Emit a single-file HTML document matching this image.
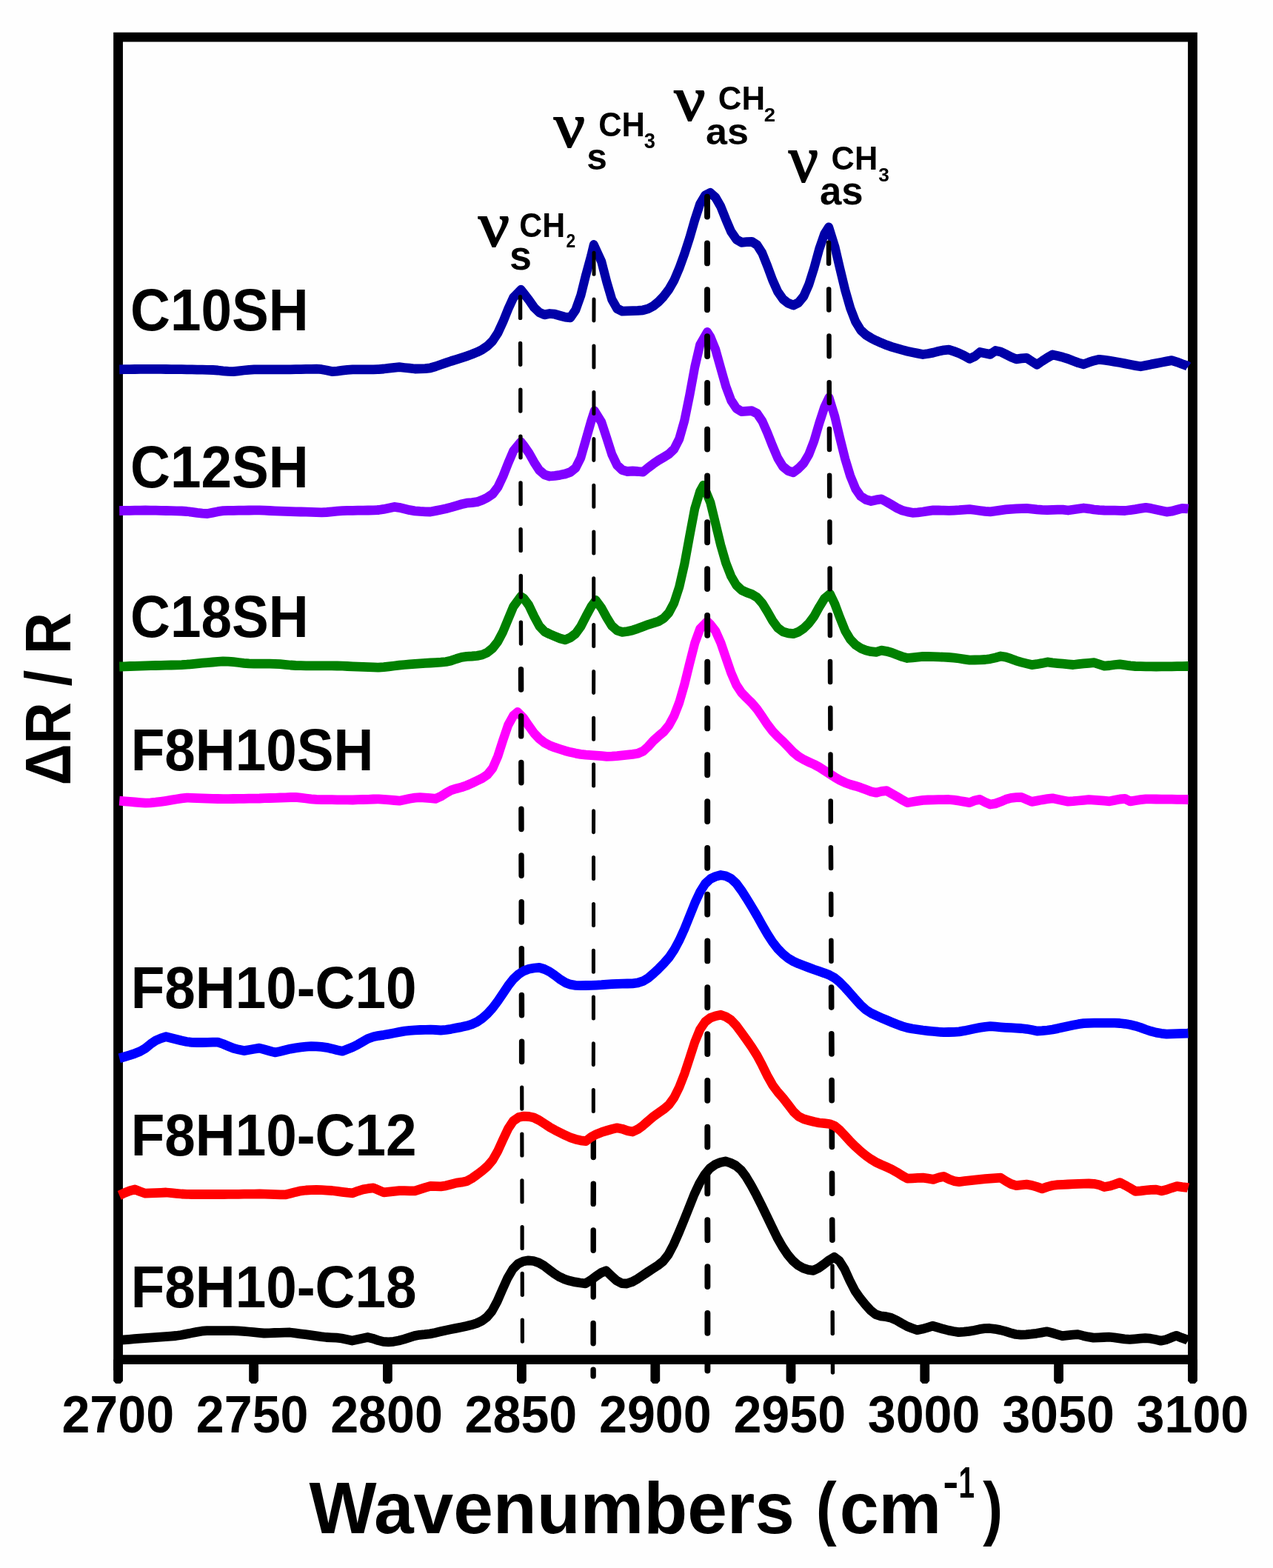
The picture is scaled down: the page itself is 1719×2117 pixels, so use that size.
<!DOCTYPE html>
<html lang="en"><head><meta charset="utf-8"><title>IR spectra</title>
<style>
html,body{margin:0;padding:0;background:#fefefe;}
body{width:1719px;height:2117px;overflow:hidden;}
svg{display:block;}
text{font-family:"Liberation Sans",sans-serif;font-weight:bold;fill:#000;}
.nu{font-family:"Liberation Serif","DejaVu Serif",serif;}
.c{fill:none;stroke-width:12.8;stroke-linejoin:round;stroke-linecap:butt;}
.d{fill:none;stroke:#000;stroke-linecap:round;}
</style></head><body>
<svg xmlns="http://www.w3.org/2000/svg" width="1719" height="2117" viewBox="0 0 1719 2117">
<rect x="0" y="0" width="1719" height="2117" fill="#fefefe"/>
<g fill="none" stroke="#000" stroke-width="12.8">
<path d="M159.55 1850 V50.2 H1610.50 V1850" stroke-linejoin="miter"/>
<path d="M159.6 1835.6 H1610.5"/>
</g>
<path fill="#000" d="M153.15 1835.6V1864.6L156.35 1868H162.75L165.95 1864.6V1835.6ZM336.20 1835.6V1864.6L339.40 1868H345.80L349.00 1864.6V1835.6ZM517.00 1835.6V1864.6L520.20 1868H526.60L529.80 1864.6V1835.6ZM698.00 1835.6V1864.6L701.20 1868H707.60L710.80 1864.6V1835.6ZM878.40 1835.6V1864.6L881.60 1868H888.00L891.20 1864.6V1835.6ZM1061.60 1835.6V1864.6L1064.80 1868H1071.20L1074.40 1864.6V1835.6ZM1242.40 1835.6V1864.6L1245.60 1868H1252.00L1255.20 1864.6V1835.6ZM1423.20 1835.6V1864.6L1426.40 1868H1432.80L1436.00 1864.6V1835.6ZM1604.10 1835.6V1864.6L1607.30 1868H1613.70L1616.90 1864.6V1835.6Z"/>
<g transform="scale(0.950 1)">
<path class="c" stroke="#FF00FF" d="M169.7 1081.2L177.1 1081.8L184.5 1082.4L191.8 1083.0L199.2 1083.6L206.6 1084.2L213.9 1083.9L221.3 1083.2L228.7 1082.3L236.1 1081.3L243.4 1080.2L250.8 1079.0L258.2 1077.9L265.5 1077.1L272.9 1077.3L280.3 1077.6L287.6 1077.8L295.0 1078.1L302.4 1078.3L309.7 1078.5L317.1 1078.7L324.5 1078.6L331.8 1078.5L339.2 1078.4L346.6 1078.3L353.9 1078.2L361.3 1078.1L368.7 1078.0L376.1 1077.7L383.4 1077.5L390.8 1077.3L398.2 1077.0L405.5 1076.8L412.9 1076.5L420.3 1076.3L427.6 1077.1L435.0 1078.0L442.4 1078.8L449.7 1079.4L457.1 1079.6L464.5 1079.7L471.8 1079.7L479.2 1079.8L486.6 1079.9L493.9 1079.9L501.3 1080.0L508.7 1079.7L516.1 1079.5L523.4 1079.3L530.8 1079.0L538.2 1078.8L545.5 1079.3L552.9 1079.9L560.3 1080.5L567.6 1081.2L575.0 1079.8L582.4 1078.3L589.7 1077.1L597.1 1076.6L604.5 1077.1L611.8 1077.7L619.2 1078.3L626.6 1075.2L633.9 1070.7L641.3 1066.9L648.7 1064.7L656.1 1062.9L663.4 1060.5L670.8 1057.4L678.2 1054.0L685.5 1050.6L692.9 1045.9L700.3 1037.1L707.6 1021.1L715.0 999.3L722.4 978.7L729.7 966.3L735.7 961.5L744.5 969.9L751.8 980.2L759.2 990.0L766.6 997.4L773.9 1002.7L781.3 1006.4L788.7 1009.2L796.1 1011.5L803.4 1013.7L810.8 1015.6L818.2 1017.1L825.5 1018.4L832.9 1019.2L840.3 1019.7L847.6 1020.1L855.0 1020.7L862.4 1021.4L869.7 1021.1L877.1 1020.6L884.5 1019.9L891.8 1019.2L899.2 1018.4L906.6 1017.2L913.9 1014.3L921.3 1008.0L928.7 1000.2L936.1 993.8L943.4 988.0L950.8 979.4L958.2 966.4L965.5 948.5L972.9 924.2L980.3 895.5L987.6 868.3L995.0 849.1L1005.3 839.2L1009.7 843.0L1017.1 852.0L1024.5 867.8L1031.8 888.0L1039.2 908.4L1046.6 924.6L1053.9 935.2L1061.3 942.4L1068.7 949.2L1076.1 957.6L1083.4 967.6L1090.8 978.1L1098.2 987.3L1105.5 994.5L1112.9 1001.0L1120.3 1008.3L1127.6 1015.6L1135.0 1021.4L1142.4 1025.5L1149.7 1028.8L1157.1 1032.0L1164.5 1035.8L1171.8 1040.2L1179.2 1044.7L1186.6 1049.3L1193.9 1053.4L1201.3 1056.7L1208.7 1059.2L1216.1 1061.2L1223.4 1063.4L1230.8 1066.1L1238.2 1068.7L1245.5 1070.2L1252.9 1068.4L1260.3 1067.6L1267.6 1071.6L1275.0 1075.7L1282.4 1079.8L1289.7 1083.7L1297.1 1082.5L1304.5 1081.4L1311.8 1080.4L1319.2 1080.0L1326.6 1079.8L1333.9 1079.7L1341.3 1079.6L1348.7 1079.5L1356.1 1080.2L1363.4 1081.2L1370.8 1082.4L1378.2 1083.6L1385.5 1080.7L1392.9 1079.4L1400.3 1083.1L1407.6 1086.0L1415.0 1084.9L1422.4 1082.3L1429.7 1079.3L1437.1 1077.4L1444.5 1076.7L1451.8 1076.3L1459.2 1079.4L1466.6 1082.4L1473.9 1081.1L1481.3 1079.8L1488.7 1078.7L1496.1 1077.8L1503.4 1079.2L1510.8 1080.7L1518.2 1082.1L1525.5 1081.7L1532.9 1081.0L1540.3 1080.3L1547.6 1079.6L1555.0 1080.1L1562.4 1080.7L1569.7 1081.2L1577.1 1081.8L1584.5 1080.4L1591.8 1079.0L1599.2 1078.4L1606.6 1081.9L1613.9 1080.7L1621.3 1079.6L1628.7 1078.8L1636.1 1078.9L1643.4 1079.0L1650.8 1079.1L1658.2 1079.1L1665.5 1079.2L1672.9 1079.3L1680.3 1079.4L1687.6 1079.5L1688.9 1079.5"/>
<path class="c" stroke="#008000" d="M169.7 900.0L177.1 899.8L184.5 899.5L191.8 899.3L199.2 899.1L206.6 898.9L213.9 898.7L221.3 898.5L228.7 898.3L236.1 898.1L243.4 898.0L250.8 897.8L258.2 897.6L265.5 897.2L272.9 896.6L280.3 895.9L287.6 895.2L295.0 894.6L302.4 894.0L309.7 893.4L317.1 892.8L324.5 893.1L331.8 893.7L339.2 894.5L346.6 895.3L353.9 895.9L361.3 896.2L368.7 896.2L376.1 896.2L383.4 896.2L390.8 896.3L398.2 896.7L405.5 897.3L412.9 898.0L420.3 898.5L427.6 898.7L435.0 898.8L442.4 898.8L449.7 898.8L457.1 898.8L464.5 898.8L471.8 898.8L479.2 899.0L486.6 899.2L493.9 899.5L501.3 899.8L508.7 900.1L516.1 900.4L523.4 900.6L530.8 900.9L538.2 901.2L545.5 900.6L552.9 899.8L560.3 899.0L567.6 898.2L575.0 897.5L582.4 896.8L589.7 896.3L597.1 895.9L604.5 895.4L611.8 895.0L619.2 894.6L626.6 894.2L633.9 893.5L641.3 891.9L648.7 889.5L656.1 887.4L663.4 886.4L670.8 886.0L678.2 885.4L685.5 884.0L692.9 880.8L700.3 875.1L707.6 866.2L715.0 852.8L722.4 835.7L729.7 819.1L740.3 805.4L744.5 807.9L751.8 817.3L759.2 832.2L766.6 845.2L773.9 852.6L781.3 856.1L788.7 859.1L796.1 862.0L803.4 863.8L810.8 860.8L818.2 855.5L825.5 845.9L832.9 832.2L840.3 819.2L846.9 810.5L855.0 820.9L862.4 833.7L869.7 844.9L877.1 851.1L884.5 853.3L891.8 852.5L899.2 850.9L906.6 848.6L913.9 845.9L921.3 843.3L928.7 841.2L936.1 838.9L943.4 834.7L950.8 827.2L958.2 813.8L965.5 792.5L972.9 761.7L980.3 723.4L987.6 686.6L995.0 663.5L999.8 655.3L1009.7 678.2L1017.1 707.1L1024.5 736.2L1031.8 760.0L1039.2 778.0L1046.6 790.0L1053.9 796.6L1061.3 799.9L1068.7 802.4L1076.1 806.5L1083.4 814.3L1090.8 825.8L1098.2 838.1L1105.5 847.6L1112.9 852.9L1120.3 854.9L1127.6 855.7L1135.0 853.1L1142.4 848.4L1149.7 841.6L1157.1 832.2L1164.5 819.6L1171.8 808.3L1179.8 801.9L1186.6 815.3L1193.9 834.0L1201.3 851.6L1208.7 863.3L1216.1 870.6L1223.4 875.2L1230.8 878.0L1238.2 879.7L1245.5 880.3L1252.9 878.2L1260.3 879.3L1267.6 881.2L1275.0 884.0L1282.4 886.6L1289.7 888.5L1297.1 887.8L1304.5 887.1L1311.8 886.4L1319.2 886.5L1326.6 886.7L1333.9 886.9L1341.3 887.1L1348.7 887.5L1356.1 888.1L1363.4 889.0L1370.8 890.1L1378.2 891.1L1385.5 891.0L1392.9 890.9L1400.3 890.5L1407.6 889.6L1415.0 888.0L1422.4 886.0L1429.7 887.1L1437.1 889.4L1444.5 892.1L1451.8 894.1L1459.2 895.9L1466.6 897.6L1473.9 896.7L1481.3 895.4L1488.7 893.9L1496.1 894.9L1503.4 895.6L1510.8 896.2L1518.2 896.9L1525.5 897.5L1532.9 896.7L1540.3 895.9L1547.6 895.3L1555.0 894.7L1562.4 896.9L1569.7 899.1L1577.1 898.5L1584.5 897.5L1591.8 896.8L1599.2 897.9L1606.6 898.9L1613.9 899.5L1621.3 899.7L1628.7 899.8L1636.1 899.9L1643.4 900.0L1650.8 899.9L1658.2 899.9L1665.5 899.8L1672.9 899.7L1680.3 899.6L1687.6 899.5L1688.9 899.5"/>
<path class="c" stroke="#8000FF" d="M169.7 689.5L177.1 689.4L184.5 689.3L191.8 689.2L199.2 689.1L206.6 689.0L213.9 689.1L221.3 689.2L228.7 689.3L236.1 689.5L243.4 689.6L250.8 689.8L258.2 690.0L265.5 690.5L272.9 691.3L280.3 692.4L287.6 693.1L295.0 693.5L302.4 692.1L309.7 690.7L317.1 689.7L324.5 689.4L331.8 689.3L339.2 689.2L346.6 689.1L353.9 689.0L361.3 688.9L368.7 688.8L376.1 689.1L383.4 689.5L390.8 689.8L398.2 690.1L405.5 690.3L412.9 690.6L420.3 690.8L427.6 691.0L435.0 691.2L442.4 691.4L449.7 691.7L457.1 691.9L464.5 691.5L471.8 690.9L479.2 690.2L486.6 689.7L493.9 689.4L501.3 689.3L508.7 689.2L516.1 689.1L523.4 689.0L530.8 688.9L538.2 688.5L545.5 687.4L552.9 685.9L560.3 684.4L567.6 685.3L575.0 687.0L582.4 688.7L589.7 689.8L597.1 690.4L604.5 690.8L611.8 691.0L619.2 689.6L626.6 688.2L633.9 686.7L641.3 684.9L648.7 682.8L656.1 680.8L663.4 679.2L670.8 678.7L678.2 677.7L685.5 675.1L692.9 671.7L700.3 666.9L707.6 657.8L715.0 643.0L722.4 625.1L729.7 608.9L740.3 596.6L744.5 601.6L751.8 611.5L759.2 624.1L766.6 634.8L773.9 640.8L781.3 643.0L788.7 642.3L796.1 641.3L803.4 639.9L810.8 637.4L818.2 631.7L825.5 617.9L832.9 593.4L840.3 568.6L845.0 554.7L855.0 570.0L862.4 591.5L869.7 613.3L877.1 628.0L884.5 634.6L891.8 636.5L899.2 636.0L906.6 636.5L913.9 637.2L921.3 631.5L928.7 626.2L936.1 621.4L943.4 617.3L950.8 613.0L958.2 606.2L965.5 592.6L972.9 567.8L980.3 533.4L987.6 495.6L995.0 465.5L1005.3 448.5L1009.7 454.9L1017.1 472.1L1024.5 497.2L1031.8 521.7L1039.2 540.5L1046.6 551.2L1053.9 555.6L1061.3 555.2L1068.7 554.7L1076.1 558.3L1083.4 568.4L1090.8 584.4L1098.2 602.2L1105.5 618.5L1112.9 629.9L1120.3 635.6L1127.6 637.8L1135.0 632.5L1142.4 625.3L1149.7 613.7L1157.1 595.3L1164.5 571.4L1171.8 550.2L1178.4 536.9L1186.6 562.2L1193.9 591.5L1201.3 619.6L1208.7 642.8L1216.1 659.9L1223.4 669.9L1230.8 674.5L1238.2 676.5L1245.5 674.9L1252.9 673.9L1260.3 677.6L1267.6 681.7L1275.0 685.9L1282.4 689.1L1289.7 690.9L1297.1 692.3L1304.5 691.9L1311.8 691.0L1319.2 689.9L1326.6 688.8L1333.9 689.0L1341.3 689.2L1348.7 689.4L1356.1 689.1L1363.4 688.7L1370.8 688.1L1378.2 687.6L1385.5 688.5L1392.9 689.5L1400.3 690.4L1407.6 690.9L1415.0 689.9L1422.4 688.8L1429.7 687.9L1437.1 687.3L1444.5 686.9L1451.8 686.6L1459.2 686.4L1466.6 687.1L1473.9 687.8L1481.3 688.3L1488.7 688.6L1496.1 688.4L1503.4 688.2L1510.8 688.1L1518.2 689.0L1525.5 688.0L1532.9 687.0L1540.3 686.0L1547.6 686.8L1555.0 688.0L1562.4 688.7L1569.7 689.0L1577.1 689.1L1584.5 689.2L1591.8 689.3L1599.2 689.5L1606.6 688.6L1613.9 687.6L1621.3 686.4L1628.7 685.3L1636.1 686.4L1643.4 687.9L1650.8 689.5L1658.2 691.1L1665.5 690.2L1672.9 688.3L1680.3 686.4L1687.6 686.8L1688.9 687.0"/>
<path class="c" stroke="#0000A8" d="M169.7 498.8L177.1 498.7L184.5 498.6L191.8 498.5L199.2 498.4L206.6 498.3L213.9 498.3L221.3 498.4L228.7 498.4L236.1 498.5L243.4 498.6L250.8 498.6L258.2 498.7L265.5 498.8L272.9 498.9L280.3 499.1L287.6 499.2L295.0 499.3L302.4 499.5L309.7 500.0L317.1 500.8L324.5 501.4L331.8 501.7L339.2 500.8L346.6 500.0L353.9 499.3L361.3 498.9L368.7 498.8L376.1 498.8L383.4 498.8L390.8 498.8L398.2 498.8L405.5 498.8L412.9 498.8L420.3 498.7L427.6 498.6L435.0 498.4L442.4 498.3L449.7 498.1L457.1 498.7L464.5 500.0L471.8 501.6L479.2 501.1L486.6 500.2L493.9 499.4L501.3 498.9L508.7 498.8L516.1 498.8L523.4 498.8L530.8 498.8L538.2 498.6L545.5 498.0L552.9 497.1L560.3 496.3L567.6 495.7L575.0 496.5L582.4 497.2L589.7 498.0L597.1 497.9L604.5 497.7L611.8 496.8L619.2 494.8L626.6 492.3L633.9 489.9L641.3 487.5L648.7 485.3L656.1 483.1L663.4 480.8L670.8 478.3L678.2 475.4L685.5 471.9L692.9 467.1L700.3 460.2L707.6 449.6L715.0 434.4L722.4 417.0L729.7 401.9L740.5 391.2L744.5 396.1L751.8 405.0L759.2 415.1L766.6 421.9L773.9 424.9L781.3 423.5L788.7 424.2L796.1 426.2L803.4 428.1L810.8 428.8L818.2 418.6L825.5 399.1L832.9 370.9L840.3 345.2L844.0 330.5L855.0 353.3L862.4 380.7L869.7 404.2L877.1 416.6L884.5 420.1L891.8 419.8L899.2 419.6L906.6 419.4L913.9 418.8L921.3 416.9L928.7 413.1L936.1 407.4L943.4 400.1L950.8 390.8L958.2 378.5L965.5 362.2L972.9 342.8L980.3 321.0L987.6 296.8L995.0 275.4L1002.4 263.7L1009.7 260.3L1017.1 266.6L1024.5 278.9L1031.8 296.3L1039.2 312.8L1046.6 323.1L1053.9 327.3L1061.3 326.6L1068.7 326.3L1076.1 330.7L1083.4 341.6L1090.8 359.3L1098.2 378.3L1105.5 393.7L1112.9 403.8L1120.3 409.3L1127.6 412.1L1135.0 408.6L1142.4 400.0L1149.7 384.2L1157.1 362.0L1164.5 336.3L1171.8 316.1L1178.0 306.8L1186.6 332.9L1193.9 362.5L1201.3 391.6L1208.7 416.1L1216.1 434.3L1223.4 445.6L1230.8 452.1L1238.2 456.4L1245.5 459.9L1252.9 463.1L1260.3 465.9L1267.6 468.3L1275.0 470.4L1282.4 472.4L1289.7 474.2L1297.1 475.7L1304.5 477.1L1311.8 478.5L1319.2 477.5L1326.6 476.1L1333.9 474.3L1341.3 472.8L1348.7 472.1L1356.1 474.4L1363.4 477.0L1370.8 480.4L1378.2 484.4L1385.5 481.2L1392.9 475.5L1400.3 477.0L1407.6 478.4L1415.0 473.5L1422.4 475.0L1429.7 478.4L1437.1 482.0L1444.5 484.9L1451.8 483.9L1459.2 483.3L1466.6 487.9L1473.9 492.3L1481.3 487.5L1488.7 483.0L1496.1 479.0L1503.4 480.5L1510.8 482.3L1518.2 484.5L1525.5 487.3L1532.9 489.9L1540.3 491.8L1547.6 489.2L1555.0 486.9L1562.4 485.3L1569.7 486.2L1577.1 487.2L1584.5 488.3L1591.8 489.5L1599.2 490.9L1606.6 492.3L1613.9 493.6L1621.3 494.8L1628.7 493.4L1636.1 491.9L1643.4 490.6L1650.8 489.2L1658.2 487.9L1665.5 486.6L1672.9 488.8L1680.3 491.5L1687.6 493.9L1688.9 495.0"/>
</g>
<path class="d" stroke-width="5.4" d="M702.5 400.7L702.6 429.4M702.6 463.5L702.7 492.2M702.8 526.3L702.8 555.0M702.9 589.1L703.0 617.8M703.0 651.9L703.1 680.6M703.1 714.7L703.2 743.4M703.3 777.5L703.3 806.2M703.4 840.3L703.5 869.0"/>
<path class="d" stroke-width="7.4" d="M703.5 903.8L703.6 931.1M703.7 966.6L703.7 993.9M703.8 1029.4L703.9 1056.7M703.9 1092.2L704.0 1119.5M704.0 1155.0L704.1 1182.3M704.2 1217.8L704.2 1245.1M704.3 1280.6L704.4 1307.9M704.4 1343.4L704.5 1370.7M704.6 1406.2L704.6 1433.5"/>
<path class="d" stroke-width="5.2" d="M704.7 1468.2L704.8 1497.1M704.8 1531.0L704.9 1559.9M704.9 1593.8L705.0 1622.7M705.1 1656.6L705.1 1685.5M705.2 1719.4L705.3 1748.3M705.3 1782.2L705.4 1811.1M705.5 1845.0L705.5 1858.2"/>
<path class="d" stroke-width="5.0" d="M802.0 341.2L802.0 370.2M802.0 404.1L801.9 433.1M801.9 466.9L801.9 495.9M801.9 529.6L801.9 558.6M801.9 592.4L801.8 621.4M801.8 655.2L801.8 684.2M801.8 718.0L801.8 747.0M801.7 780.8L801.7 809.8M801.7 843.6L801.7 872.6M801.7 906.4L801.6 935.4M801.6 969.2L801.6 998.2M801.6 1032.0L801.6 1061.0M801.6 1094.8L801.5 1123.8M801.5 1157.6L801.5 1186.6M801.5 1220.4L801.5 1249.4M801.4 1283.2L801.4 1312.2M801.4 1346.0L801.4 1375.0M801.4 1408.8L801.3 1437.8M801.3 1471.6L801.3 1500.6"/>
<path class="d" stroke-width="7.4" d="M801.3 1535.3L801.3 1562.6M801.3 1598.1L801.2 1625.4M801.2 1660.9L801.2 1688.2M801.2 1723.7L801.2 1751.0M801.1 1786.5L801.1 1813.8M801.1 1849.3L801.1 1857.9"/>
<path class="d" stroke-width="7.9" d="M955.0 265.7L955.0 292.6M955.0 328.5L955.0 355.4M955.0 391.3L955.0 418.2M955.0 454.1L955.1 481.0M955.1 516.9L955.1 543.8M955.1 579.7L955.1 606.6M955.1 642.5L955.1 669.4M955.1 705.3L955.1 732.2M955.1 768.1L955.1 795.0M955.1 830.9L955.2 857.8M955.2 893.7L955.2 920.6M955.2 956.5L955.2 983.4M955.2 1019.3L955.2 1046.2M955.2 1082.1L955.2 1109.0M955.2 1144.9L955.2 1171.8M955.2 1207.7L955.2 1234.6M955.3 1270.5L955.3 1297.4M955.3 1333.3L955.3 1360.2M955.3 1396.1L955.3 1423.0M955.3 1458.9L955.3 1485.8M955.3 1521.7L955.3 1548.6M955.3 1584.5L955.3 1611.4M955.3 1647.3L955.4 1674.2M955.4 1710.1L955.4 1737.0M955.4 1772.9L955.4 1799.8M955.4 1835.7L955.4 1850.5"/>
<path class="d" stroke-width="6.5" d="M1119.0 327.8L1119.1 355.7M1119.2 390.6L1119.3 418.5M1119.5 453.4L1119.6 481.3M1119.7 516.2L1119.8 544.1M1119.9 579.0L1120.0 606.9M1120.1 641.8L1120.2 669.7M1120.4 704.6L1120.5 732.5M1120.6 767.4L1120.7 795.3M1120.8 830.2L1120.9 858.1M1121.0 893.0L1121.1 920.9M1121.3 955.8L1121.4 983.7M1121.5 1018.6L1121.6 1046.5M1121.7 1081.4L1121.8 1109.3M1121.9 1144.2L1122.1 1172.1M1122.2 1207.0L1122.3 1234.9M1122.4 1269.8L1122.5 1297.7"/>
<path class="d" stroke-width="7.6" d="M1122.6 1333.0L1122.7 1360.1M1122.8 1395.8L1123.0 1422.9M1123.1 1458.6L1123.2 1485.7M1123.3 1521.4L1123.4 1548.5M1123.5 1584.2L1123.6 1611.3M1123.7 1647.0L1123.9 1674.1"/>
<path class="d" stroke-width="5.4" d="M1124.0 1709.0L1124.1 1737.7M1124.2 1771.8L1124.3 1800.5M1124.4 1834.6L1124.5 1853.0"/>
<g transform="scale(0.950 1)">
<path class="c" stroke="#000000" d="M168.9 1809.4L176.3 1808.8L183.7 1808.3L191.1 1807.7L198.4 1807.2L205.8 1806.6L213.2 1806.1L220.5 1805.6L227.9 1805.1L235.3 1804.6L242.6 1804.1L250.0 1803.5L257.4 1802.5L264.7 1801.1L272.1 1799.8L279.5 1798.4L286.8 1797.2L294.2 1796.7L301.6 1796.6L308.9 1796.6L316.3 1796.6L323.7 1796.6L331.1 1796.6L338.4 1796.8L345.8 1797.3L353.2 1798.0L360.5 1798.7L367.9 1799.4L375.3 1800.0L382.6 1799.8L390.0 1799.5L397.4 1799.3L404.7 1799.1L412.1 1799.0L419.5 1799.9L426.8 1800.8L434.2 1801.7L441.6 1802.7L448.9 1803.7L456.3 1804.7L463.7 1805.5L471.1 1805.8L478.4 1806.1L485.8 1807.0L493.2 1808.5L500.5 1810.1L507.9 1808.5L515.3 1807.0L522.6 1805.5L530.0 1807.2L537.4 1809.6L544.7 1811.4L552.1 1811.9L559.5 1811.3L566.8 1810.0L574.2 1808.1L581.6 1805.8L588.9 1803.6L596.3 1802.3L603.7 1801.7L611.1 1800.9L618.4 1799.5L625.8 1797.8L633.2 1796.2L640.5 1794.8L647.9 1793.4L655.3 1792.0L662.6 1790.5L670.0 1788.8L677.4 1786.7L684.7 1783.4L692.1 1778.3L699.5 1769.9L706.8 1757.0L714.2 1740.9L721.6 1725.3L728.9 1713.5L736.3 1706.3L743.7 1703.0L751.1 1701.8L758.4 1702.5L765.8 1704.8L773.2 1708.9L780.5 1714.2L787.9 1719.5L795.3 1723.9L802.6 1727.1L810.0 1729.3L817.4 1730.9L824.7 1732.0L832.1 1732.8L839.5 1728.7L846.8 1723.4L854.2 1718.6L861.6 1715.8L868.9 1722.4L876.3 1728.8L883.7 1732.7L891.1 1733.0L898.4 1730.7L905.8 1726.9L913.2 1722.2L920.5 1717.5L927.9 1712.9L935.3 1708.4L942.6 1702.8L950.0 1693.9L957.4 1680.5L964.7 1664.7L972.1 1647.8L979.5 1630.1L986.8 1612.6L994.2 1597.6L1001.6 1585.9L1008.9 1577.6L1016.3 1572.4L1023.7 1569.5L1031.1 1567.9L1038.4 1570.1L1045.8 1573.6L1053.2 1579.6L1060.5 1588.8L1067.9 1600.6L1075.3 1613.7L1082.6 1627.6L1090.0 1642.0L1097.4 1656.7L1104.7 1670.9L1112.1 1683.3L1119.5 1693.7L1126.8 1702.0L1134.2 1708.2L1141.6 1712.1L1148.9 1714.3L1156.3 1715.3L1163.7 1711.9L1171.1 1706.9L1178.4 1701.5L1185.8 1697.3L1193.2 1702.5L1200.5 1713.5L1207.9 1729.0L1215.3 1742.7L1222.6 1752.7L1230.0 1761.3L1237.4 1769.2L1244.7 1774.6L1252.1 1776.8L1259.5 1777.7L1266.8 1779.3L1274.2 1782.5L1281.6 1786.6L1288.9 1790.4L1296.3 1793.2L1303.7 1795.7L1311.1 1794.3L1318.4 1792.3L1325.8 1790.2L1333.2 1792.2L1340.5 1794.3L1347.9 1796.1L1355.3 1797.5L1362.6 1798.6L1370.0 1798.1L1377.4 1797.4L1384.7 1796.2L1392.1 1794.7L1399.5 1793.6L1406.8 1793.5L1414.2 1794.3L1421.6 1795.6L1428.9 1797.4L1436.3 1799.6L1443.7 1801.5L1451.1 1802.2L1458.4 1801.8L1465.8 1801.2L1473.2 1800.3L1480.5 1799.1L1487.9 1797.8L1495.3 1799.5L1502.6 1801.6L1510.0 1803.7L1517.4 1802.8L1524.7 1802.1L1532.1 1801.6L1539.5 1803.4L1546.8 1804.9L1554.2 1806.1L1561.6 1805.8L1568.9 1805.5L1576.3 1805.2L1583.7 1805.8L1591.1 1806.9L1598.4 1807.9L1605.8 1808.4L1613.2 1807.8L1620.5 1807.2L1627.9 1806.7L1635.3 1807.2L1642.6 1808.5L1650.0 1810.2L1657.4 1808.7L1664.7 1805.9L1672.1 1803.3L1679.5 1806.2L1686.8 1808.6L1688.9 1810.0"/>
<path class="c" stroke="#FF0000" d="M169.7 1613.8L177.1 1610.5L184.5 1607.7L191.8 1605.9L199.2 1608.7L206.6 1611.2L213.9 1610.9L221.3 1610.6L228.7 1610.3L236.1 1610.0L243.4 1610.7L250.8 1611.3L258.2 1612.0L265.5 1612.4L272.9 1612.5L280.3 1612.5L287.6 1612.5L295.0 1612.5L302.4 1612.5L309.7 1612.5L317.1 1612.5L324.5 1612.4L331.8 1612.3L339.2 1612.3L346.6 1612.2L353.9 1612.1L361.3 1612.1L368.7 1612.0L376.1 1612.2L383.4 1612.4L390.8 1612.6L398.2 1612.8L405.5 1612.9L412.9 1611.3L420.3 1609.4L427.6 1607.8L435.0 1607.0L442.4 1606.6L449.7 1606.4L457.1 1606.7L464.5 1607.1L471.8 1607.5L479.2 1608.3L486.6 1609.3L493.9 1610.2L501.3 1610.8L508.7 1608.1L516.1 1605.9L523.4 1604.7L530.8 1603.8L538.2 1606.9L545.5 1609.9L552.9 1609.1L560.3 1608.4L567.6 1607.6L575.0 1607.7L582.4 1607.8L589.7 1607.9L597.1 1605.6L604.5 1603.3L611.8 1601.3L619.2 1601.6L626.6 1601.8L633.9 1600.8L641.3 1599.0L648.7 1597.1L656.1 1596.2L663.4 1594.7L670.8 1590.9L678.2 1585.9L685.5 1580.6L692.9 1574.5L700.3 1566.2L707.6 1553.9L715.0 1538.5L722.4 1523.6L729.7 1513.3L737.1 1508.6L744.5 1507.1L751.8 1507.5L759.2 1509.1L766.6 1512.6L773.9 1517.2L781.3 1521.8L788.7 1525.7L796.1 1529.2L803.4 1532.7L810.8 1535.8L818.2 1538.2L825.5 1539.8L832.9 1540.6L840.3 1535.2L847.6 1531.4L855.0 1528.7L862.4 1526.5L869.7 1524.5L877.1 1522.8L884.5 1524.2L891.8 1526.6L899.2 1528.0L906.6 1524.7L913.9 1519.7L921.3 1513.5L928.7 1507.6L936.1 1502.5L943.4 1497.7L950.8 1491.6L958.2 1481.9L965.5 1467.9L972.9 1449.9L980.3 1428.5L987.6 1407.0L995.0 1389.9L1002.4 1379.5L1009.7 1374.3L1017.1 1371.7L1024.5 1370.2L1031.8 1372.7L1039.2 1377.3L1046.6 1384.8L1053.9 1394.1L1061.3 1403.9L1068.7 1414.0L1076.1 1425.1L1083.4 1438.2L1090.8 1452.5L1098.2 1465.1L1105.5 1474.4L1112.9 1482.4L1120.3 1491.4L1127.6 1500.6L1135.0 1507.2L1142.4 1510.8L1149.7 1512.7L1157.1 1514.5L1164.5 1516.0L1171.8 1516.7L1179.2 1517.5L1186.6 1520.2L1193.9 1526.1L1201.3 1533.6L1208.7 1541.3L1216.1 1548.2L1223.4 1554.5L1230.8 1560.2L1238.2 1565.2L1245.5 1569.3L1252.9 1572.6L1260.3 1575.7L1267.6 1578.8L1275.0 1582.8L1282.4 1587.3L1289.7 1591.1L1297.1 1590.8L1304.5 1590.4L1311.8 1590.1L1319.2 1591.2L1326.6 1592.4L1333.9 1590.0L1341.3 1588.4L1348.7 1591.9L1356.1 1594.6L1363.4 1595.6L1370.8 1594.7L1378.2 1593.9L1385.5 1593.1L1392.9 1592.4L1400.3 1591.7L1407.6 1591.1L1415.0 1590.6L1422.4 1590.1L1429.7 1594.6L1437.1 1598.5L1444.5 1600.7L1451.8 1599.9L1459.2 1599.2L1466.6 1600.3L1473.9 1602.4L1481.3 1604.9L1488.7 1602.4L1496.1 1600.5L1503.4 1599.6L1510.8 1599.3L1518.2 1599.0L1525.5 1598.7L1532.9 1598.4L1540.3 1598.1L1547.6 1598.0L1555.0 1598.3L1562.4 1599.8L1569.7 1602.5L1577.1 1601.3L1584.5 1599.1L1591.8 1596.6L1599.2 1600.2L1606.6 1604.2L1613.9 1608.3L1621.3 1607.8L1628.7 1607.0L1636.1 1606.3L1643.4 1606.1L1650.8 1607.9L1658.2 1606.3L1665.5 1603.8L1672.9 1601.6L1680.3 1602.6L1687.6 1603.4L1688.9 1603.8"/>
<path class="c" stroke="#0000FF" d="M169.7 1428.8L177.1 1426.8L184.5 1424.7L191.8 1422.3L199.2 1419.5L206.6 1415.4L213.9 1409.7L221.3 1404.9L228.7 1401.9L236.1 1399.7L243.4 1401.4L250.8 1403.2L258.2 1405.0L265.5 1406.5L272.9 1407.3L280.3 1407.5L287.6 1407.5L295.0 1407.4L302.4 1407.2L309.7 1407.1L317.1 1409.5L324.5 1412.5L331.8 1415.3L339.2 1417.1L346.6 1418.6L353.9 1417.5L361.3 1416.3L368.7 1415.1L376.1 1417.0L383.4 1419.0L390.8 1420.9L398.2 1419.4L405.5 1417.7L412.9 1416.1L420.3 1414.9L427.6 1413.9L435.0 1413.1L442.4 1412.7L449.7 1412.9L457.1 1413.4L464.5 1414.3L471.8 1415.9L479.2 1417.8L486.6 1419.2L493.9 1416.5L501.3 1413.7L508.7 1410.2L516.1 1406.1L523.4 1402.2L530.8 1399.7L538.2 1398.3L545.5 1397.3L552.9 1396.1L560.3 1394.8L567.6 1393.4L575.0 1392.1L582.4 1391.3L589.7 1390.8L597.1 1390.5L604.5 1390.3L611.8 1390.1L619.2 1390.5L626.6 1391.0L633.9 1390.4L641.3 1389.3L648.7 1387.9L656.1 1386.6L663.4 1385.1L670.8 1382.9L678.2 1379.6L685.5 1374.9L692.9 1368.7L700.3 1360.9L707.6 1351.6L715.0 1341.2L722.4 1330.7L729.7 1321.9L737.1 1315.4L744.5 1310.9L751.8 1308.3L759.2 1307.0L766.6 1306.3L773.9 1308.5L781.3 1312.0L788.7 1316.9L796.1 1322.2L803.4 1326.6L810.8 1329.2L818.2 1330.3L825.5 1330.6L832.9 1330.5L840.3 1330.4L847.6 1330.1L855.0 1329.7L862.4 1329.1L869.7 1328.7L877.1 1328.3L884.5 1328.1L891.8 1328.0L899.2 1327.8L906.6 1326.9L913.9 1324.7L921.3 1320.5L928.7 1314.6L936.1 1307.9L943.4 1300.9L950.8 1292.9L958.2 1282.6L965.5 1269.7L972.9 1254.2L980.3 1236.8L987.6 1219.4L995.0 1204.2L1002.4 1193.1L1009.7 1186.7L1017.1 1183.4L1024.5 1181.5L1031.8 1182.7L1039.2 1186.2L1046.6 1192.8L1053.9 1202.2L1061.3 1213.1L1068.7 1224.6L1076.1 1236.5L1083.4 1249.0L1090.8 1261.1L1098.2 1272.0L1105.5 1280.8L1112.9 1288.0L1120.3 1293.7L1127.6 1297.9L1135.0 1301.1L1142.4 1303.8L1149.7 1306.4L1157.1 1309.0L1164.5 1311.4L1171.8 1313.8L1179.2 1316.6L1186.6 1320.5L1193.9 1326.3L1201.3 1333.5L1208.7 1341.4L1216.1 1349.4L1223.4 1357.0L1230.8 1363.4L1238.2 1367.9L1245.5 1371.2L1252.9 1374.3L1260.3 1377.3L1267.6 1380.2L1275.0 1383.0L1282.4 1385.6L1289.7 1387.6L1297.1 1389.0L1304.5 1390.0L1311.8 1391.0L1319.2 1391.8L1326.6 1392.5L1333.9 1393.2L1341.3 1393.7L1348.7 1393.5L1356.1 1393.3L1363.4 1392.8L1370.8 1391.7L1378.2 1390.2L1385.5 1388.7L1392.9 1387.4L1400.3 1386.4L1407.6 1385.7L1415.0 1386.2L1422.4 1386.8L1429.7 1387.3L1437.1 1387.7L1444.5 1388.1L1451.8 1388.5L1459.2 1389.3L1466.6 1390.5L1473.9 1392.0L1481.3 1391.7L1488.7 1391.0L1496.1 1390.0L1503.4 1388.6L1510.8 1387.0L1518.2 1385.5L1525.5 1384.0L1532.9 1382.7L1540.3 1381.7L1547.6 1381.3L1555.0 1381.2L1562.4 1381.2L1569.7 1381.2L1577.1 1381.2L1584.5 1381.2L1591.8 1381.5L1599.2 1382.3L1606.6 1383.5L1613.9 1385.2L1621.3 1387.4L1628.7 1390.0L1636.1 1392.3L1643.4 1394.1L1650.8 1395.3L1658.2 1396.1L1665.5 1395.8L1672.9 1395.6L1680.3 1395.3L1687.6 1395.1L1688.9 1395.0"/>
</g>
<text transform="translate(176.11 446.20) scale(0.9450 1)" font-size="79.00">C10SH</text>
<text transform="translate(176.11 658.40) scale(0.9450 1)" font-size="79.00">C12SH</text>
<text transform="translate(176.11 859.70) scale(0.9450 1)" font-size="79.00">C18SH</text>
<text transform="translate(176.65 1040.00) scale(0.9450 1)" font-size="79.00">F8H10SH</text>
<text transform="translate(176.65 1361.10) scale(0.9450 1)" font-size="79.00">F8H10-C10</text>
<text transform="translate(176.65 1559.90) scale(0.9450 1)" font-size="79.00">F8H10-C12</text>
<text transform="translate(176.65 1764.60) scale(0.9450 1)" font-size="79.00">F8H10-C18</text>
<text transform="translate(159.25 1933.6) scale(0.9630 1)" text-anchor="middle" font-size="70.80">2700</text>
<text transform="translate(340.64 1933.6) scale(0.9630 1)" text-anchor="middle" font-size="70.80">2750</text>
<text transform="translate(522.04 1933.6) scale(0.9630 1)" text-anchor="middle" font-size="70.80">2800</text>
<text transform="translate(703.43 1933.6) scale(0.9630 1)" text-anchor="middle" font-size="70.80">2850</text>
<text transform="translate(884.83 1933.6) scale(0.9630 1)" text-anchor="middle" font-size="70.80">2900</text>
<text transform="translate(1066.22 1933.6) scale(0.9630 1)" text-anchor="middle" font-size="70.80">2950</text>
<text transform="translate(1247.61 1933.6) scale(0.9630 1)" text-anchor="middle" font-size="70.80">3000</text>
<text transform="translate(1429.01 1933.6) scale(0.9630 1)" text-anchor="middle" font-size="70.80">3050</text>
<text transform="translate(1610.40 1933.6) scale(0.9630 1)" text-anchor="middle" font-size="70.80">3100</text>
<text transform="translate(417.50 2070.00) scale(0.9840 1)" font-size="98.00">Wavenumbers</text>
<text transform="translate(1101.70 2068.07) scale(0.8797 1)" font-size="95.40">(</text>
<text transform="translate(1133.69 2070.00) scale(0.9711 1)" font-size="98.00">cm</text>
<text transform="translate(1273.26 2021.30) scale(1.0588 1)" font-size="60.00">-</text>
<text transform="translate(1294.58 2022.30) scale(0.6499 1)" font-size="59.57">1</text>
<text transform="translate(1327.30 2068.07) scale(0.8461 1)" font-size="95.40">)</text>
<text transform="translate(95.2 1060.62) rotate(-90) scale(0.9020 1)" font-size="86.50">ΔR / R</text>
<text class="nu" transform="translate(646.10 331.85) scale(1.0923 1)" font-size="84.95" style="font-weight:normal" stroke="#000" stroke-width="2.0" stroke-linejoin="miter">ν</text>
<text transform="translate(701.29 320.33) scale(0.9163 1)" font-size="46.76">CH</text>
<text transform="translate(764.61 333.70) scale(0.8981 1)" font-size="25.29">2</text>
<text transform="translate(688.01 364.35) scale(0.9794 1)" font-size="55.09">s</text>
<text class="nu" transform="translate(748.10 198.46) scale(1.1007 1)" font-size="84.30" style="font-weight:normal" stroke="#000" stroke-width="2.0" stroke-linejoin="miter">ν</text>
<text transform="translate(808.26 184.43) scale(0.9263 1)" font-size="46.90">CH</text>
<text transform="translate(869.82 200.21) scale(0.9446 1)" font-size="28.87">3</text>
<text transform="translate(792.36 228.70) scale(0.9845 1)" font-size="50.36">s</text>
<text class="nu" transform="translate(910.40 161.95) scale(1.0923 1)" font-size="84.95" style="font-weight:normal" stroke="#000" stroke-width="2.0" stroke-linejoin="miter">ν</text>
<text transform="translate(969.75 147.96) scale(0.9972 1)" font-size="43.94">CH</text>
<text transform="translate(1031.64 163.80) scale(1.0577 1)" font-size="26.00">2</text>
<text transform="translate(953.04 194.89) scale(1.0274 1)" font-size="50.73">as</text>
<text class="nu" transform="translate(1065.00 245.01) scale(0.9950 1)" font-size="88.82" style="font-weight:normal" stroke="#000" stroke-width="2.0" stroke-linejoin="miter">ν</text>
<text transform="translate(1122.57 229.06) scale(0.9776 1)" font-size="44.37">CH</text>
<text transform="translate(1186.24 244.85) scale(1.0535 1)" font-size="24.93">3</text>
<text transform="translate(1106.92 275.69) scale(1.0332 1)" font-size="51.09">as</text>
</svg>
</body></html>
